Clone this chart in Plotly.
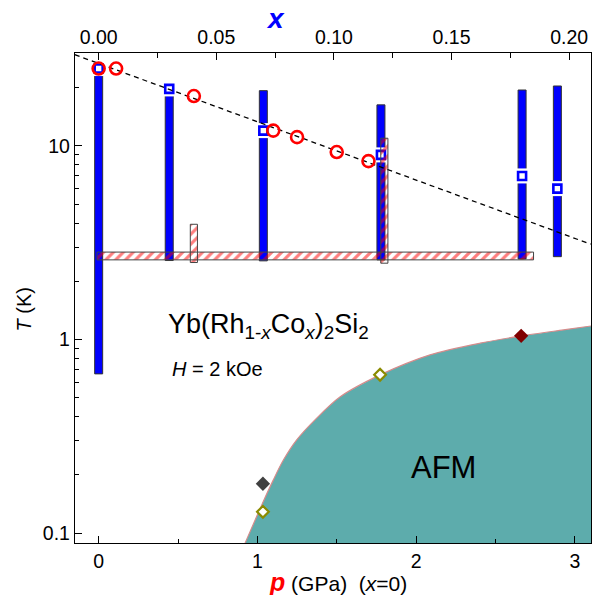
import plotly.graph_objects as go

# ---------------- data ----------------
# blue bars (top axis, x = Co content): T range in K
bar_x = [0.0, 0.03, 0.07, 0.12, 0.18, 0.195]
bar_lo = [0.665, 2.56, 2.55, 2.58, 2.61, 2.68]
bar_hi = [25.1, 19.7, 19.3, 16.3, 19.45, 20.4]
# open blue squares (top axis)
sq_T = [25.1, 19.7, 12.0, 8.99, 7.0, 6.02]

# red open circles (bottom axis, pressure)
circ_p = [0.0, 0.11, 0.6, 1.1, 1.25, 1.5, 1.7]
circ_T = [25.1, 25.1, 18.1, 12.0, 11.1, 9.3, 8.35]

# dashed guide line (bottom axis)
dash_p = [-0.15, 3.1]
dash_T = [29.6, 3.11]

# hatched bars (bottom axis, pressure)
hbar_p = [0.6, 1.8]
hbar_lo = [2.50, 2.48]
hbar_hi = [3.94, 10.96]
horiz_p = [-0.01, 2.74]
horiz_T = [2.58, 2.83]

# AFM phase boundary (bottom axis)
afm_p = [0.90, 0.928, 1.027, 1.100, 1.163, 1.248, 1.374, 1.52, 1.773, 2.088, 2.403, 2.665, 2.928, 3.15]
afm_T = [0.0805, 0.091, 0.1396, 0.188, 0.238, 0.3035, 0.393, 0.505, 0.657, 0.834, 0.958, 1.045, 1.122, 1.19]

# diamonds
dia_gray_p, dia_gray_T = [1.035], [0.18]
dia_olive_p, dia_olive_T = [1.035, 1.773], [0.129, 0.658]
dia_red_p, dia_red_T = [2.662], [1.045]

xtop_ticks = [0.0, 0.05, 0.10, 0.15, 0.20]
xtop_labels = ["0.00", "0.05", "0.10", "0.15", "0.20"]
p_ticks = [0, 1, 2, 3]
T_ticks = [0.1, 1, 10]
T_labels = ["0.1", "1", "10"]

# ---------------- styles ----------------
FONT = "Liberation Sans, Arial, sans-serif"
BAR_W = 0.0034      # width of blue bars in x units
HBAR_W = 0.045      # width of hatched vertical bars in GPa
BLUE = "#0000FF"
RED = "#FF0000"
TEAL = "#5DACAC"


def rects(xc, lo, hi, w):
    xs, ys = [], []
    for c, a, b in zip(xc, lo, hi):
        xs += [c - w / 2, c + w / 2, c + w / 2, c - w / 2, c - w / 2, None]
        ys += [a, a, b, b, a, None]
    return xs, ys


fig = go.Figure()

# ---- base subplot: Co content axis (top) ----
bx, by = rects(bar_x, bar_lo, bar_hi, BAR_W)
fig.add_trace(go.Scatter(x=bx, y=by, xaxis="x", mode="lines", fill="toself", fillcolor=BLUE,
                         line=dict(color="#333333", width=1), showlegend=False))
# halos around squares
fig.add_trace(go.Scatter(x=bar_x, y=sq_T, xaxis="x", mode="markers",
                         marker=dict(symbol="square", size=15, color="white", line=dict(width=0)),
                         showlegend=False))
# blue squares
fig.add_trace(go.Scatter(x=bar_x, y=sq_T, xaxis="x", mode="markers",
                         marker=dict(symbol="square", size=8, color="white",
                                     line=dict(color=BLUE, width=2.6)), showlegend=False))

# ---- overlay subplot: pressure axis (bottom) ----
fig.add_trace(go.Scatter(x=[afm_p[0], afm_p[-1]], y=[0.05, 0.05], xaxis="x2", mode="lines",
                         line=dict(width=0, color=TEAL), hoverinfo="skip", showlegend=False))
fig.add_trace(go.Scatter(x=afm_p, y=afm_T, xaxis="x2", mode="lines", fill="tonexty",
                         fillcolor=TEAL,
                         line=dict(color="#D58C8C", width=1.2, shape="spline", smoothing=0.8),
                         showlegend=False))

hx, hy = rects(hbar_p, hbar_lo, hbar_hi, HBAR_W)
hx += [horiz_p[0], horiz_p[1], horiz_p[1], horiz_p[0], horiz_p[0]]
hy += [horiz_T[0], horiz_T[0], horiz_T[1], horiz_T[1], horiz_T[0]]
fig.add_trace(go.Scatter(x=hx, y=hy, xaxis="x2", mode="lines", fill="toself",
                         fillpattern=dict(shape="/", fgcolor=RED, bgcolor="rgba(255,255,255,0)",
                                          size=7, solidity=0.45),
                         line=dict(color="#444444", width=1), showlegend=False))

fig.add_trace(go.Scatter(x=dash_p, y=dash_T, xaxis="x2", mode="lines",
                         line=dict(color="black", width=1.3, dash="5px,4px"), showlegend=False))

fig.add_trace(go.Scatter(x=circ_p, y=circ_T, xaxis="x2", mode="markers",
                         marker=dict(symbol="circle-open", size=12, color=RED, line=dict(width=2.6)),
                         showlegend=False))

fig.add_trace(go.Scatter(x=dia_gray_p, y=dia_gray_T, xaxis="x2", mode="markers",
                         marker=dict(symbol="diamond", size=11, color="#404040", line=dict(width=0)),
                         showlegend=False))
fig.add_trace(go.Scatter(x=dia_red_p, y=dia_red_T, xaxis="x2", mode="markers",
                         marker=dict(symbol="diamond", size=11, color="#800000", line=dict(width=0)),
                         showlegend=False))
fig.add_trace(go.Scatter(x=dia_olive_p, y=dia_olive_T, xaxis="x2", mode="markers",
                         marker=dict(symbol="diamond", size=9, color="white",
                                     line=dict(color="#8B8B00", width=2.2)), showlegend=False))

axis_common = dict(showline=True, linecolor="black", linewidth=1.3, ticks="inside",
                   tickcolor="black", tickwidth=1.2, ticklen=7, showgrid=False, zeroline=False,
                   automargin=False,
                   tickfont=dict(family=FONT, size=19.5, color="black"))

fig.update_layout(
    width=592, height=595,
    margin=dict(l=75, r=1, t=53, b=52, autoexpand=False),
    paper_bgcolor="white", plot_bgcolor="white",
    font=dict(family=FONT, color="black"),
    xaxis=dict(range=[-0.01006, 0.2093], side="top", tickvals=xtop_ticks, ticktext=xtop_labels,
               minor=dict(tickvals=[0.025, 0.075, 0.125, 0.175], ticks="inside", ticklen=5,
                          tickcolor="black"),
               **axis_common),
    xaxis2=dict(range=[-0.149, 3.102], overlaying="x", side="bottom", tickvals=p_ticks,
                ticktext=[str(v) for v in p_ticks],
                minor=dict(tickvals=[0.5, 1.5, 2.5], ticks="inside", ticklen=4, tickcolor="black"),
                **axis_common),
    yaxis=dict(type="log", range=[-1.0506, 1.480], tickvals=T_ticks, ticktext=T_labels,
               mirror=True,
               minor=dict(tickvals=[0.09, 0.2, 0.3, 0.4, 0.5, 0.6, 0.7, 0.8, 0.9,
                                    2, 3, 4, 5, 6, 7, 8, 9, 20, 30],
                          ticks="inside", ticklen=4, tickcolor="black"),
               **axis_common),
    showlegend=False,
)


def px2paper(px, py):
    return (px - 75) / 516, (543 - py) / 490


ann = []
x_, y_ = px2paper(23.5, 310)
ann.append(dict(x=x_, y=y_, text="<i>T</i> (K)", textangle=-90, font=dict(size=20)))
x_, y_ = px2paper(337.5, 582)
ann.append(dict(x=x_, y=y_, text="<b><i><span style='color:#FF0000;font-size:25px'>p</span></i></b> (GPa)  (<i>x</i>=0)",
                font=dict(size=21)))
x_, y_ = px2paper(275.5, 18)
ann.append(dict(x=x_, y=y_, text="<b><i>x</i></b>", font=dict(size=28, color=BLUE)))
x_, y_ = px2paper(166, 326)
ann.append(dict(x=x_, y=y_, xanchor="left",
                text="Yb(Rh<sub>1-<i>x</i></sub>Co<sub><i>x</i></sub>)<sub>2</sub>Si<sub>2</sub>",
                font=dict(size=27)))
x_, y_ = px2paper(170, 369)
ann.append(dict(x=x_, y=y_, xanchor="left", text="<i>H</i> = 2 kOe", font=dict(size=20)))
x_, y_ = px2paper(443.5, 467)
ann.append(dict(x=x_, y=y_, text="AFM", font=dict(size=31)))
for a in ann:
    a.update(xref="paper", yref="paper", showarrow=False)
    a.setdefault("xanchor", "center")
    a.setdefault("yanchor", "middle")
fig.update_layout(annotations=ann)

fig.write_html("out.html", config={"displayModeBar": False},
               post_script="document.body.style.margin='0';document.body.style.overflow='hidden';")
